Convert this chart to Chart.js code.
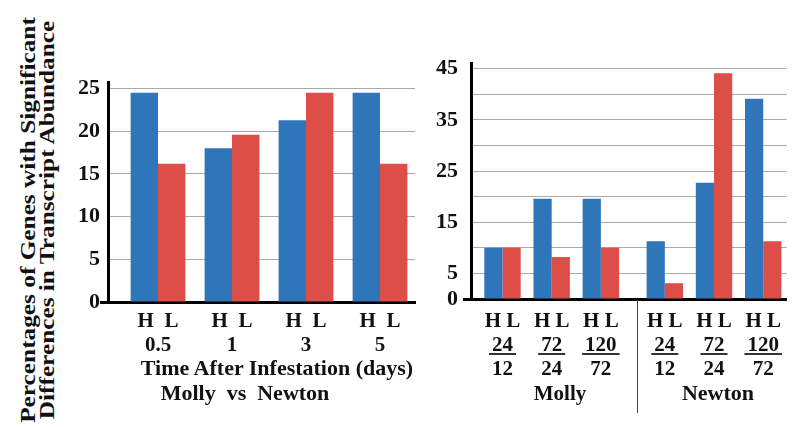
<!DOCTYPE html>
<html>
<head>
<meta charset="utf-8">
<script src="https://cdn.jsdelivr.net/npm/chart.js@4"></script>
<style>
  html, body { margin: 0; padding: 0; background: #fff; width: 792px; height: 427px; overflow: hidden; }
  body { position: relative; font-family: "Liberation Serif", "Times New Roman", serif; font-weight: bold; color: #111; }
  canvas { position: absolute; top: 0; }
  .lbl { position: absolute; white-space: pre; transform: translate(-50%, -50%); font-size: 22px; line-height: 1; }
  #ytitle { position: absolute; left: 37px; top: 220px; width: 440px; text-align: center; font-size: 22px; line-height: 19px;
            white-space: nowrap; transform: translate(-50%, -50%) rotate(-90deg) scaleX(1.15); }
  #divider { position: absolute; left: 637px; top: 300px; width: 1px; height: 113px; background: #444; }
</style>
</head>
<body>
<div id="ytitle">Percentages of Genes with Significant<br>Differences in Transcript Abundance</div>
<canvas id="timeChart" width="420" height="427" style="left:0"></canvas>
<canvas id="ratioChart" width="372" height="427" style="left:420px"></canvas>
<div class="lbl" style="left:277px; top:368px">Time After Infestation (days)</div>
<div class="lbl" style="left:245px; top:393px">Molly  vs  Newton</div>
<div id="divider"></div>
<div class="lbl" style="left:560px; top:393px; font-size:21px">Molly</div>
<div class="lbl" style="left:718px; top:393px">Newton</div>
<script>
// Molly vs Newton, by days after infestation
const timeDays = ['0.5', '1', '3', '5'];
const timeHigh = [24.5, 18.0, 21.3, 24.5];
const timeLow = [16.2, 19.6, 24.5, 16.2];
const timeTicks = [0, 5, 10, 15, 20, 25];

// Ratios of time points (hours) within each cultivar
const ratioNumerators = ['24', '72', '120', '24', '72', '120'];
const ratioDenominators = ['12', '24', '72', '12', '24', '72'];
const ratioCultivar = ['Molly', 'Molly', 'Molly', 'Newton', 'Newton', 'Newton'];
const ratioHigh = [10.0, 19.6, 19.6, 11.3, 22.7, 39.1];
const ratioLow = [10.0, 8.2, 10.0, 3.1, 44.1, 11.3];
const ratioGrid = [0, 5, 10, 15, 20, 25, 30, 35, 40, 45];
const ratioTickLabels = [0, 5, 15, 25, 35, 45];

const BLUE = '#2e75b9';
const RED = '#dc4e47';
const GRID = '#a9a9a9';
const FONT = '"Liberation Serif", "Times New Roman", serif';
const CULTIVAR_GAP = 0.3;

// x positions: one slot per category, with an extra gap between cultivars
const timePos = timeDays.map((_, i) => i);
const ratioPos = ratioCultivar.map((c, i) => {
  let breaks = 0;
  for (let k = 1; k <= i; k++) if (ratioCultivar[k] !== ratioCultivar[k - 1]) breaks++;
  return i + CULTIVAR_GAP * breaks;
});

const toPoints = (pos, vals) => vals.map((v, i) => ({ x: pos[i], y: v }));

function barDatasets(pos, high, low) {
  return [
    { label: 'H', data: toPoints(pos, high), backgroundColor: BLUE, borderWidth: 0, categoryPercentage: 0.74, barPercentage: 1 },
    { label: 'L', data: toPoints(pos, low), backgroundColor: RED, borderWidth: 0, categoryPercentage: 0.74, barPercentage: 1 }
  ];
}

function yAxis(max, width, gridValues, labelValues, pad) {
  return {
    type: 'linear', min: 0, max: max, bounds: 'data',
    afterBuildTicks: s => { s.ticks = gridValues.map(v => ({ value: v })); },
    afterFit: s => { s.width = width; },
    ticks: {
      autoSkip: false, padding: pad, color: '#111',
      font: { family: FONT, size: 22, weight: 'bold' },
      callback: v => labelValues.includes(v) ? String(v) : ''
    },
    grid: {
      color: c => c.tick && c.tick.value === 0 ? 'rgba(0,0,0,0)' : GRID,
      lineWidth: 1,
      tickLength: 8,
      tickColor: c => c.tick && c.tick.value === 0 ? '#000' : 'rgba(0,0,0,0)',
      tickWidth: 3
    },
    border: { color: '#000', width: 3 }
  };
}

function xAxis(pos, min, max, height, labels, pad) {
  return {
    type: 'linear', min: min, max: max, bounds: 'data', offset: false,
    afterBuildTicks: s => { s.ticks = pos.map(v => ({ value: v })); },
    afterFit: s => { s.height = height; },
    ticks: {
      autoSkip: false, maxRotation: 0, padding: pad, color: '#111',
      font: { family: FONT, size: 21, weight: 'bold', lineHeight: '24px' },
      callback: (v, i) => labels(i)
    },
    grid: { display: false, offset: false, drawTicks: true, tickLength: 0 },
    border: { color: '#000', width: 3 }
  };
}

// horizontal bar of each fraction label under the ratio chart
const fractionBars = {
  id: 'fractionBars',
  afterDraw(chart) {
    const s = chart.scales.x;
    const ctx = chart.ctx;
    ctx.save();
    ctx.font = 'bold 21px ' + FONT;
    ctx.strokeStyle = '#333';
    ctx.lineWidth = 2;
    const y = s.top + 11 + 12 + 24 + 8;
    ratioPos.forEach((p, i) => {
      const w = Math.max(ctx.measureText(ratioNumerators[i]).width, ctx.measureText(ratioDenominators[i]).width) + 6;
      const x = s.getPixelForValue(p);
      ctx.beginPath();
      ctx.moveTo(x - w / 2, y);
      ctx.lineTo(x + w / 2, y);
      ctx.stroke();
    });
    ctx.restore();
  }
};

const common = {
  responsive: false,
  animation: false,
  events: [],
  plugins: { legend: { display: false }, tooltip: { enabled: false } }
};

new Chart(document.getElementById('timeChart'), {
  type: 'bar',
  data: { datasets: barDatasets(timePos, timeHigh, timeLow) },
  options: Object.assign({}, common, {
    layout: { padding: { top: 82, right: 5, left: 0, bottom: 0 } },
    scales: {
      x: xAxis(timePos, -0.676, 3.473, 125, i => ['H  L', timeDays[i]], 8),
      y: yAxis(25.77, 108, timeTicks, timeTicks, 0)
    }
  })
});

new Chart(document.getElementById('ratioChart'), {
  type: 'bar',
  data: { datasets: barDatasets(ratioPos, ratioHigh, ratioLow) },
  options: Object.assign({}, common, {
    layout: { padding: { top: 63, right: 0, left: 0, bottom: 0 } },
    scales: {
      x: xAxis(ratioPos, -0.64, 5.78, 128, i => ['H L', ratioNumerators[i], ratioDenominators[i]], 11),
      y: yAxis(46.1, 51, ratioGrid, ratioTickLabels, 5)
    }
  }),
  plugins: [fractionBars]
});
</script>
</body>
</html>
